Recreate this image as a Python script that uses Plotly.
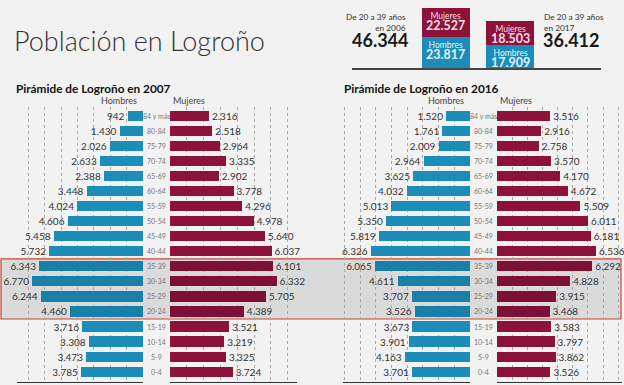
import plotly.graph_objects as go

# ---------------- data ----------------
ages = ["84 y más", "80-84", "75-79", "70-74", "65-69", "60-64", "55-59", "50-54",
        "45-49", "40-44", "35-39", "30-34", "25-29", "20-24", "15-19", "10-14", "5-9", "0-4"]

men_2007 = [942, 1430, 2026, 2633, 2388, 3448, 4024, 4606, 5458, 5732,
            6343, 6770, 6244, 4460, 3716, 3308, 3473, 3785]
women_2007 = [2316, 2518, 2964, 3335, 2902, 3778, 4296, 4978, 5640, 6037,
              6101, 6332, 5705, 4389, 3521, 3219, 3325, 3724]
men_2016 = [1520, 1761, 2009, 2964, 3625, 4032, 5013, 5350, 5819, 6326,
            6065, 4611, 3707, 3526, 3673, 3901, 4163, 3701]
women_2016 = [3516, 2916, 2758, 3570, 4170, 4672, 5509, 6011, 6181, 6536,
              6292, 4828, 3915, 3468, 3583, 3797, 3862, 3526]

highlight_ages = ["35-39", "30-34", "25-29", "20-24"]
summary_years = ["2006", "2017"]
summary_texts = ["De 20 a 39 años", "De 20 a 39 años"]

title = "Población en Logroño"
subtitle_left = "Pirámide de Logroño en 2007"
subtitle_right = "Pirámide de Logroño en 2016"

# ---------------- helpers / styles ----------------
W, H = 624, 385
BG = "#F2F2F2"
BLUE, BLUE_D = "#1B8DB8", "#1880A8"
RED, RED_D = "#8C1239", "#7D1034"
FONT = "Lato"


def fx(px):
    return px / W


def fy(px):
    return 1 - px / H


def fmt(v):
    return f"{v:,}".replace(",", ".")


hl_idx = [ages.index(a) for a in highlight_ages]


def colors(base, dark):
    return [dark if a in highlight_ages else base for a in ages]


def sum_hl(vals):
    return sum(vals[i] for i in hl_idx)


men_sum = [sum_hl(men_2007), sum_hl(men_2016)]
women_sum = [sum_hl(women_2007), sum_hl(women_2016)]
totals = [m + w for m, w in zip(men_sum, women_sum)]

fig = go.Figure()

panels = [
    (men_2007, BLUE, BLUE_D, "x", "y"),
    (women_2007, RED, RED_D, "x2", "y2"),
    (men_2016, BLUE, BLUE_D, "x3", "y3"),
    (women_2016, RED, RED_D, "x4", "y4"),
]
for vals, c, cd, xa, ya in panels:
    fig.add_trace(go.Bar(
        x=vals, y=ages, orientation="h", xaxis=xa, yaxis=ya,
        marker=dict(color=colors(c, cd), line=dict(width=0)),
        width=0.68,
        text=[fmt(v) for v in vals], textposition="outside",
        textfont=dict(family=FONT, size=10, color="#333333"),
        constraintext="none", cliponaxis=False, hoverinfo="skip",
        showlegend=False,
    ))

# summary stacked bars
fig.add_trace(go.Bar(x=summary_years, y=men_sum, xaxis="x5", yaxis="y5",
                     marker=dict(color=BLUE, line=dict(width=0)), width=0.745,
                     showlegend=False, hoverinfo="skip"))
fig.add_trace(go.Bar(x=summary_years, y=women_sum, xaxis="x5", yaxis="y5",
                     marker=dict(color=RED, line=dict(width=0)), width=0.745,
                     showlegend=False, hoverinfo="skip"))

# ---------------- axes ----------------
ydom = [fy(381.5), fy(106.7)]
yrange = [len(ages) - 1 + 0.65, -0.6]

xcfg = dict(showgrid=True, griddash="dot", gridcolor="#A8A8A8", gridwidth=1,
            dtick=1000, tick0=0, zeroline=False, showticklabels=False, ticks="",
            showline=True, linecolor="#333333", linewidth=1.5, fixedrange=True)
ycfg = dict(categoryorder="array", categoryarray=ages, range=yrange,
            showticklabels=False, ticks="", showgrid=False, zeroline=False,
            showline=False, domain=ydom, fixedrange=True)

fig.update_layout(
    xaxis=dict(xcfg, domain=[fx(17), fx(143)], range=[7700, 0], anchor="y"),
    yaxis=dict(ycfg, anchor="x"),
    xaxis2=dict(xcfg, domain=[fx(170), fx(297)], range=[0, 7550], anchor="y2"),
    yaxis2=dict(ycfg, anchor="x2"),
    xaxis3=dict(xcfg, domain=[fx(343), fx(470)], range=[8100, 0], anchor="y3"),
    yaxis3=dict(ycfg, anchor="x3"),
    xaxis4=dict(xcfg, domain=[fx(497), fx(622)], range=[0, 8250], anchor="y4"),
    yaxis4=dict(ycfg, anchor="x4"),
    xaxis5=dict(domain=[fx(351.7), fx(600.7)], range=[-1.46, 2.40], anchor="y5",
                type="category", showticklabels=False, ticks="", showgrid=False,
                zeroline=False, showline=True, linecolor="#444444", linewidth=1.5,
                fixedrange=True),
    yaxis5=dict(domain=[fy(68.3), fy(6.2)], range=[0, 48000], anchor="x5",
                showticklabels=False, ticks="", showgrid=False, zeroline=False,
                fixedrange=True),
    barmode="stack",
    width=W, height=H,
    margin=dict(l=0, r=0, t=0, b=0),
    paper_bgcolor=BG, plot_bgcolor="rgba(0,0,0,0)",
    font=dict(family=FONT, color="#333333"),
)

# highlight box across both pyramids
fig.add_shape(type="rect", xref="paper", yref="y",
              x0=fx(1), x1=fx(621),
              y0=min(hl_idx) - 0.5, y1=max(hl_idx) + 0.5,
              fillcolor="#DADADA", line=dict(color="#C8462F", width=1.2),
              layer="below")

ann = []
# titles
ann.append(dict(text=title, xref="paper", yref="paper", x=fx(12), y=fy(40),
                xanchor="left", yanchor="middle", showarrow=False,
                font=dict(family=FONT, size=27, color="#333333", weight=300)))
ann.append(dict(text=f"<b>{subtitle_left}</b>", xref="paper", yref="paper",
                x=fx(14), y=fy(89), xanchor="left", yanchor="middle", showarrow=False,
                font=dict(family=FONT, size=11.8, color="#111111")))
ann.append(dict(text=f"<b>{subtitle_right}</b>", xref="paper", yref="paper",
                x=fx(342), y=fy(89), xanchor="left", yanchor="middle", showarrow=False,
                font=dict(family=FONT, size=11.8, color="#111111")))

# Hombres / Mujeres headers
for xa, side in [("x", "H"), ("x2", "M"), ("x3", "H"), ("x4", "M")]:
    if side == "H":
        ann.append(dict(text="Hombres", xref=f"{xa} domain", yref="paper", x=1,
                        y=fy(101), xanchor="right", yanchor="middle", xshift=-4,
                        showarrow=False, font=dict(family=FONT, size=9, color="#444444")))
    else:
        ann.append(dict(text="Mujeres", xref=f"{xa} domain", yref="paper", x=0,
                        y=fy(101), xanchor="left", yanchor="middle", xshift=1,
                        showarrow=False, font=dict(family=FONT, size=9, color="#444444")))

# age labels in the middle columns
for ya, cx in [("y", (143 + 170) / 2), ("y3", (470 + 497) / 2)]:
    for a in ages:
        ann.append(dict(text=a, xref="paper", yref=ya, x=fx(cx), y=a,
                        xanchor="center", yanchor="middle", showarrow=False,
                        font=dict(family=FONT, size=7, color="#777777")))

# summary texts
for i, (yr, txt) in enumerate(zip(summary_years, summary_texts)):
    if i == 0:
        xpx, anc = 408, "right"
    else:
        xpx, anc = 542, "left"
    ann.append(dict(text=f"{txt}<br>en {yr}", xref="paper", yref="paper",
                    x=fx(xpx), y=fy(10), xanchor=anc, yanchor="top", align=anc,
                    showarrow=False,
                    font=dict(family=FONT, size=8.3, color="#333333")))
    ann.append(dict(text=f"<b>{fmt(totals[i])}</b>", xref="paper", yref="paper",
                    x=fx(xpx + (2 if i == 0 else -1)), y=fy(40),
                    xanchor=anc, yanchor="middle", showarrow=False,
                    font=dict(family=FONT, size=18, color="#1A1A1A")))
    # labels inside stacked bars (category axis -> use category index)
    for lab, top, val, col in [("Hombres", men_sum[i], men_sum[i], "#E2F2F9"),
                               ("Mujeres", men_sum[i] + women_sum[i], women_sum[i], "#F6DEE5")]:
        ann.append(dict(text=f"{lab}<br><b><span style='font-size:12.5px'>{fmt(val)}</span></b>",
                        xref="x5", yref="y5", x=i, y=top,
                        xanchor="center", yanchor="top", yshift=-1, align="center",
                        showarrow=False, font=dict(family=FONT, size=8.5, color=col)))

fig.update_layout(annotations=ann)

fig.write_html("out.html", config={"displayModeBar": False, "staticPlot": True},
               post_script="document.body.style.margin='0';document.body.style.overflow='hidden';")
